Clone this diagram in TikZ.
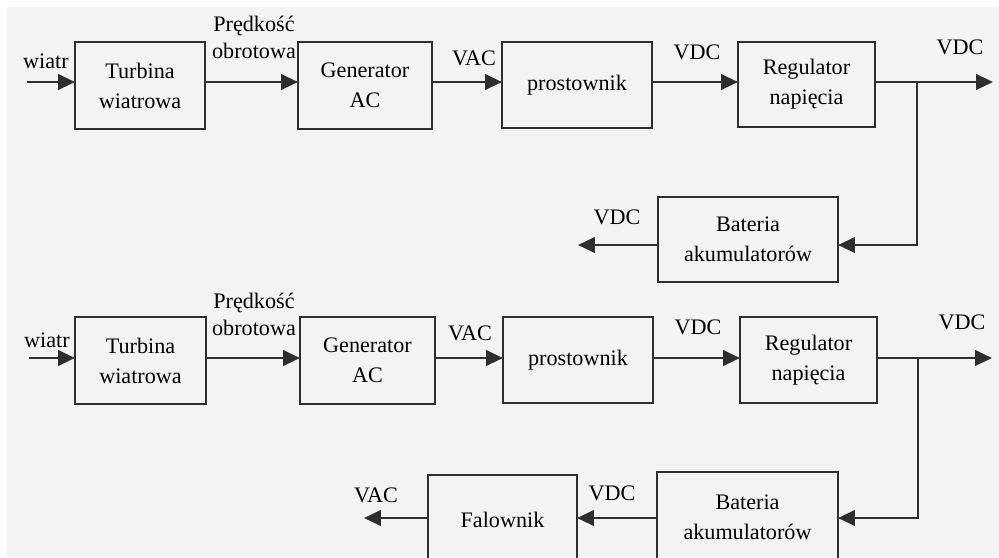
\documentclass[tikz,border=0pt]{standalone}
\usepackage{fontspec}
\setmainfont{Liberation Serif}
\usetikzlibrary{arrows.meta}
\definecolor{ln}{HTML}{2E2E2E}
\definecolor{bg}{HTML}{F3F3F3}
\begin{document}
\begin{tikzpicture}[x=0.01cm,y=-0.01cm,
  blk/.style={draw=ln,line width=0.7pt,inner sep=0pt,outer sep=0pt,align=center,font=\fontsize{6.3}{8.5}\selectfont},
  lbl/.style={inner sep=0pt,align=center,font=\fontsize{6.3}{7.8}\selectfont},
  arr/.style={draw=ln,line width=0.7pt,-{Triangle[length=4.8pt,width=4.4pt]}},
  wire/.style={draw=ln,line width=0.7pt}]
\useasboundingbox (0,0) rectangle (999,557);
\clip (0,0) rectangle (999,557);
\fill[white] (0,0) rectangle (999,557);
\fill[bg] (7,7) rectangle (999,557);

% ---------- top diagram ----------
\node[blk,minimum width=1.30cm,minimum height=0.87cm] (t1) at (140,85.5) {Turbina\\wiatrowa};
\node[blk,minimum width=1.34cm,minimum height=0.87cm] (g1) at (365,85.5) {Generator\\AC};
\node[blk,minimum width=1.50cm,minimum height=0.86cm] (p1) at (577,85) {prostownik};
\node[blk,minimum width=1.37cm,minimum height=0.85cm] (r1) at (806.5,84.5) {Regulator\\napięcia};
\node[blk,minimum width=1.80cm,minimum height=0.85cm] (b1) at (748,239.5) {Bateria\\akumulatorów};

\coordinate (in1) at (27,82);
\coordinate (o1) at (993,82);
\coordinate (br1) at (917,82);
\coordinate (c1) at (917,245);
\coordinate (bo1) at (578,245);

\draw[arr] (in1) -- (t1.west |- in1);
\draw[arr] (t1.east |- in1) -- (g1.west |- in1);
\draw[arr] (g1.east |- in1) -- (p1.west |- in1);
\draw[arr] (p1.east |- in1) -- (r1.west |- in1);
\draw[arr] (r1.east |- in1) -- (o1);
\draw[arr] (br1) -- (c1) -- (b1.east |- c1);
\draw[arr] (b1.west |- c1) -- (bo1);

\node[lbl] (lw1) at (46,61) {wiatr};
\node[lbl] (lp1) at (254,37.5) {Prędkość\\obrotowa};
\node[lbl] (lva1) at (474,58) {VAC};
\node[lbl] (lvd1) at (697,52) {VDC};
\node[lbl] (lvo1) at (960,47) {VDC};
\node[lbl] (lvb1) at (617,217) {VDC};

% ---------- bottom diagram ----------
\node[blk,minimum width=1.31cm,minimum height=0.87cm] (t2) at (140.5,360.5) {Turbina\\wiatrowa};
\node[blk,minimum width=1.35cm,minimum height=0.87cm] (g2) at (367.5,360.5) {Generator\\AC};
\node[blk,minimum width=1.50cm,minimum height=0.86cm] (p2) at (578,360) {prostownik};
\node[blk,minimum width=1.37cm,minimum height=0.86cm] (r2) at (808.5,360) {Regulator\\napięcia};
\node[blk,minimum width=1.81cm,minimum height=0.90cm] (b2) at (747.5,517) {Bateria\\akumulatorów};
\node[blk,minimum width=1.49cm,minimum height=0.90cm] (f2) at (502.5,520) {Falownik};

\coordinate (in2) at (29,358);
\coordinate (o2) at (992,358);
\coordinate (br2) at (918,358);
\coordinate (c2) at (918,518);
\coordinate (fo2) at (364,518);

\draw[arr] (in2) -- (t2.west |- in2);
\draw[arr] (t2.east |- in2) -- (g2.west |- in2);
\draw[arr] (g2.east |- in2) -- (p2.west |- in2);
\draw[arr] (p2.east |- in2) -- (r2.west |- in2);
\draw[arr] (r2.east |- in2) -- (o2);
\draw[arr] (br2) -- (c2) -- (b2.east |- c2);
\draw[arr] (b2.west |- c2) -- (f2.east |- c2);
\draw[arr] (f2.west |- c2) -- (fo2);

\node[lbl] (lw2) at (47,340) {wiatr};
\node[lbl] (lp2) at (254,314.5) {Prędkość\\obrotowa};
\node[lbl] (lva2) at (470,333) {VAC};
\node[lbl] (lvd2) at (698,327) {VDC};
\node[lbl] (lvo2) at (962,322) {VDC};
\node[lbl] (lvb2) at (612,493) {VDC};
\node[lbl] (lvf2) at (376,495) {VAC};
\end{tikzpicture}
\end{document}
